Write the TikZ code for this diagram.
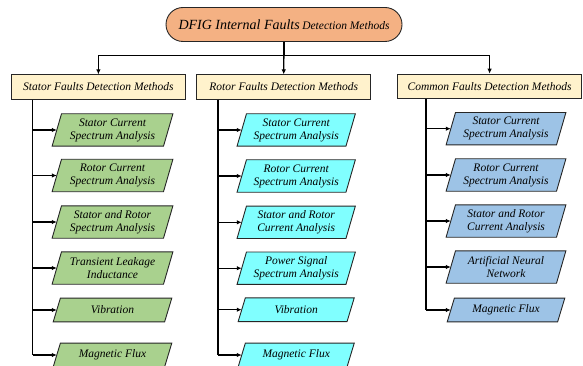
\documentclass[tikz,border=0pt]{standalone}
\usepackage{fontspec}
\setmainfont{Liberation Serif}
\newfontfamily\tnr{Liberation Serif}
\usetikzlibrary{arrows.meta,shapes.misc,backgrounds,calc}
\definecolor{salmon}{HTML}{F4B183}
\definecolor{cream}{HTML}{FFF2CC}
\definecolor{sgreen}{HTML}{A9D18E}
\definecolor{rcyan}{HTML}{80FFFF}
\definecolor{cblue}{HTML}{9DC3E6}
\definecolor{edge}{HTML}{262626}
\tikzset{
  x=1pt, y=-1pt,
  topbox/.style={rounded rectangle, draw=edge, line width=0.9pt, fill=salmon,
    minimum width=236pt, minimum height=34pt, inner sep=0pt},
  catbox/.style={rectangle, draw=edge, line width=0.9pt, fill=cream,
    minimum height=24.3pt, inner sep=0pt,
    font=\tnr\itshape\fontsize{11.5}{13}\selectfont},
  ptxt/.style={rectangle, inner sep=0pt, align=center,
    font=\tnr\itshape\fontsize{11.5}{13}\selectfont},
  ptall/.style={ptxt, minimum height=32pt},
  pshort/.style={ptxt, minimum height=23.4pt},
  conn/.style={draw=black, line width=1.3pt},
  arr/.style={conn, -{Latex[length=5pt,width=4.5pt]}},
  pshape/.style={draw=edge, line width=0.9pt},
}
\begin{document}
\begin{tikzpicture}
\useasboundingbox (0,0) rectangle (583,366);

% top node
\node[topbox] (top) at (284,24.5)
  {\tnr\itshape{\fontsize{14}{16}\selectfont DFIG Internal Faults} {\fontsize{11.5}{13}\selectfont Detection Methods}};

% category boxes
\node[catbox, minimum width=173.3pt] (cat1) at (98.4,87) {Stator Faults Detection Methods};
\node[catbox, minimum width=174pt] (cat2) at (283.7,87) {Rotor Faults Detection Methods};
\node[catbox, minimum width=184.5pt] (cat3) at (489.6,86.3) {Common Faults Detection Methods};

\draw[arr] (top.south) -- ++(0,13.5) -| (cat1.north);
\draw[arr] (top.south) -- (cat2.north);
\draw[arr] (top.south) -- ++(0,13.5) -| (cat3.north);

% stator column
\begin{scope}[every node/.append style={minimum width=111pt}]
\node[ptall] (s1) at (112.5,130) {Stator Current\\Spectrum Analysis};
\node[ptall] (s2) at (112.5,175.5) {Rotor Current\\Spectrum Analysis};
\node[ptall] (s3) at (112.5,222) {Stator and Rotor\\Spectrum Analysis};
\node[ptall] (s4) at (112.5,268) {Transient Leakage\\Inductance};
\node[pshort] (s5) at (112.5,310) {Vibration};
\node[pshort] (s6) at (112.5,355) {Magnetic Flux};
\end{scope}

% rotor column
\begin{scope}[every node/.append style={minimum width=108.5pt}]
\node[ptall] (r1) at (296.2,130) {Stator Current\\Spectrum Analysis};
\node[ptall] (r2) at (296.2,176) {Rotor Current\\Spectrum Analysis};
\node[ptall] (r3) at (296.2,222.3) {Stator and Rotor\\Current Analysis};
\node[ptall] (r4) at (296.2,268.2) {Power Signal\\Spectrum Analysis};
\node[pshort] (r5) at (296.2,309.7) {Vibration};
\node[pshort] (r6) at (296.2,355) {Magnetic Flux};
\end{scope}

% common column
\begin{scope}[every node/.append style={minimum width=110pt}]
\node[ptall] (c1) at (506,128.7) {Stator Current\\Spectrum Analysis};
\node[ptall] (c2) at (506,175) {Rotor Current\\Spectrum Analysis};
\node[ptall] (c3) at (506,221) {Stator and Rotor\\Current Analysis};
\node[ptall] (c4) at (506,267) {Artificial Neural\\Network};
\node[pshort] (c5) at (506,310) {Magnetic Flux};
\end{scope}

% parallelogram outlines
\begin{scope}[on background layer]
\foreach \n/\c/\d in {s1/sgreen/4.7, s2/sgreen/4.7, s3/sgreen/4.7, s4/sgreen/4.7, s5/sgreen/3.6, s6/sgreen/3.6,
  r1/rcyan/4.7, r2/rcyan/4.7, r3/rcyan/4.7, r4/rcyan/4.7, r5/rcyan/3.6, r6/rcyan/3.6,
  c1/cblue/4.7, c2/cblue/4.7, c3/cblue/4.7, c4/cblue/4.7, c5/cblue/3.6}{
  \path[pshape, fill=\c] ([xshift=\d pt]\n.north west) -- ([xshift=\d pt]\n.north east)
    -- ([xshift=-\d pt]\n.south east) -- ([xshift=-\d pt]\n.south west) -- cycle;
}
\end{scope}

% spines
\coordinate (sx) at ([xshift=21.3pt]cat1.south west);
\coordinate (rx) at ([xshift=21.6pt]cat2.south west);
\coordinate (cx) at ([xshift=29.2pt]cat3.south west);
\draw[conn] (sx) -- (sx |- s6.west);
\draw[conn] (rx) -- (rx |- r6.west);
\draw[conn] (cx) -- (cx |- c5.west);
\foreach \n in {s1,s2,s3,s4,s5,s6}{\draw[arr] (sx |- \n.west) -- (\n.west);}
\foreach \n in {r1,r2,r3,r4,r5,r6}{\draw[arr] (rx |- \n.west) -- (\n.west);}
\foreach \n in {c1,c2,c3,c4,c5}{\draw[arr] (cx |- \n.west) -- (\n.west);}
\end{tikzpicture}
\end{document}
